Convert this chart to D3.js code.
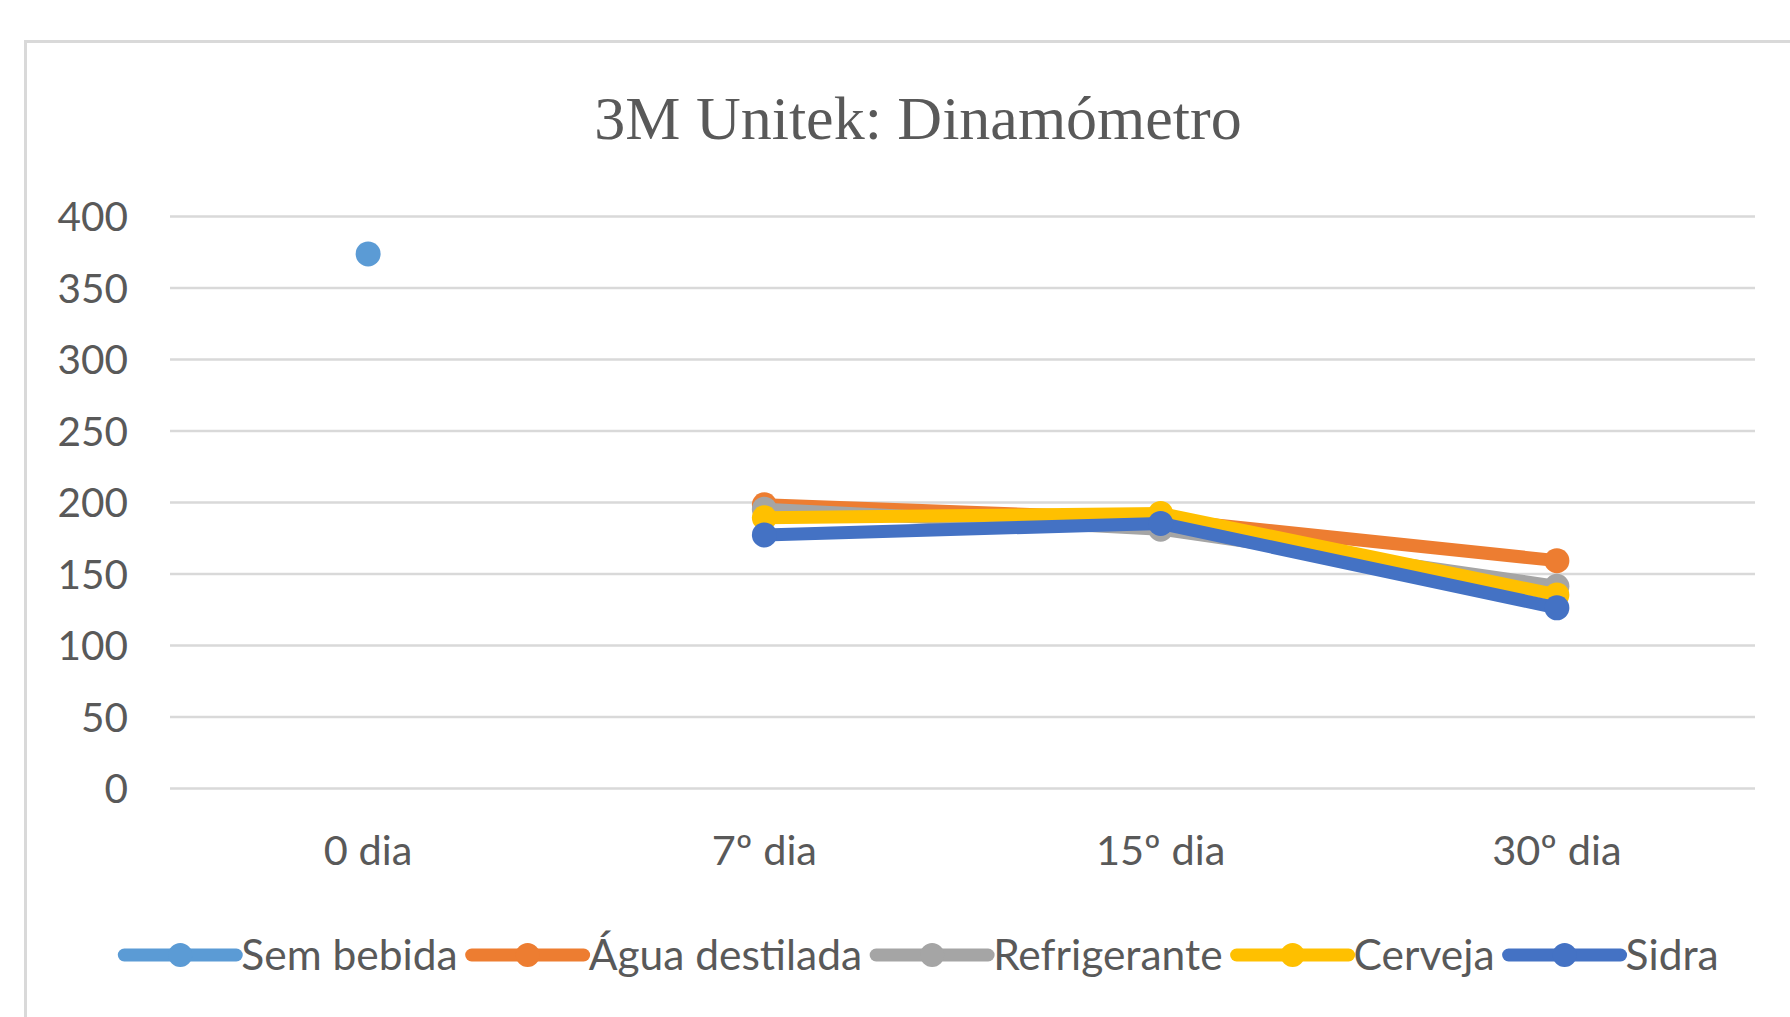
<!DOCTYPE html>
<html>
<head>
<meta charset="utf-8">
<script src="https://cdn.jsdelivr.net/npm/d3@7"></script>
<style>
  html, body { margin: 0; padding: 0; background: #ffffff; }
  svg { display: block; }
</style>
</head>
<body>
<svg id="chart" width="1790" height="1017"></svg>
<script>
// ---- data ----
const title = "3M Unitek: Dinamómetro";
const categories = ["0 dia", "7º dia", "15º dia", "30º dia"];
const yTicks = [0, 50, 100, 150, 200, 250, 300, 350, 400];
const seriesNames = ["Sem bebida", "Água destilada", "Refrigerante", "Cerveja", "Sidra"];
const seriesColors = ["#5B9BD5", "#ED7D31", "#A5A5A5", "#FFC000", "#4472C4"];
const semBebida     = [373.5, null, null, null];
const aguaDestilada = [null, 198, 188, 159];
const refrigerante  = [null, 195, 181, 141];
const cerveja       = [null, 189, 192, 135];
const sidra         = [null, 177, 185, 126];
const seriesValues = [semBebida, aguaDestilada, refrigerante, cerveja, sidra];

// ---- layout ----
const svg = d3.select("#chart");
const plot = { left: 170, right: 1755, top: 216, bottom: 788 };
const textColor = "#595959";
const sansFont = "Lato, 'Open Sans', sans-serif";

// chart border
svg.append("rect")
  .attr("x", 25.5).attr("y", 41.5)
  .attr("width", 1900).attr("height", 1100)
  .attr("fill", "#fff")
  .attr("stroke", "#d9d9d9").attr("stroke-width", 3);

// title
svg.append("text")
  .attr("x", 918).attr("y", 139)
  .attr("text-anchor", "middle")
  .attr("font-family", "'Liberation Serif', 'Times New Roman', serif")
  .attr("font-size", 62)
  .attr("fill", textColor)
  .text(title);

const x = d3.scaleBand().domain(categories).range([plot.left, plot.right]).padding(0);
const y = d3.scaleLinear().domain([0, 400]).range([plot.bottom, plot.top]);

// gridlines
const grid = d3.axisLeft(y).tickValues(yTicks).tickSize(-(plot.right - plot.left)).tickFormat("");
const gg = svg.append("g").attr("transform", `translate(${plot.left},0)`).call(grid);
gg.select(".domain").remove();
gg.selectAll(".tick line").attr("stroke", "#d9d9d9").attr("stroke-width", 2.5);

// y axis labels
const yAxis = d3.axisLeft(y).tickValues(yTicks).tickSize(0).tickPadding(0);
const gy = svg.append("g").attr("transform", `translate(${plot.left},0)`).call(yAxis);
gy.select(".domain").remove();
gy.selectAll(".tick line").remove();
gy.selectAll(".tick text")
  .attr("x", -42)
  .attr("dy", "0.36em")
  .attr("font-family", sansFont)
  .attr("font-size", 40.5)
  .attr("fill", textColor);

// x axis labels
const xAxis = d3.axisBottom(x).tickSize(0).tickPadding(0);
const gx = svg.append("g").attr("transform", `translate(0,${plot.bottom})`).call(xAxis);
gx.select(".domain").remove();
gx.selectAll(".tick text")
  .attr("y", 77)
  .attr("dy", 0)
  .attr("font-family", sansFont)
  .attr("font-size", 41.5)
  .attr("fill", textColor);

// series
const cx = c => x(c) + x.bandwidth() / 2;
const line = d3.line()
  .defined(d => d.v !== null)
  .x(d => cx(d.c))
  .y(d => y(d.v));

seriesValues.forEach((vals, i) => {
  const pts = categories.map((c, j) => ({ c, v: vals[j] }));
  const g = svg.append("g");
  g.append("path")
    .datum(pts)
    .attr("fill", "none")
    .attr("stroke", seriesColors[i])
    .attr("stroke-width", 13)
    .attr("stroke-linejoin", "round")
    .attr("stroke-linecap", "round")
    .attr("d", line);
  g.selectAll("circle")
    .data(pts.filter(d => d.v !== null))
    .join("circle")
    .attr("cx", d => cx(d.c))
    .attr("cy", d => y(d.v))
    .attr("r", 12.5)
    .attr("fill", seriesColors[i]);
});

// legend
const legY = 955;
const lineLen = 112, gapAfterLine = 5, gapAfterText = 14;
const leg = svg.append("g");
const items = seriesNames.map((name, i) => {
  const g = leg.append("g");
  g.append("line")
    .attr("x1", 0).attr("x2", lineLen)
    .attr("y1", legY).attr("y2", legY)
    .attr("stroke", seriesColors[i]).attr("stroke-width", 13)
    .attr("stroke-linecap", "round");
  g.append("circle")
    .attr("cx", lineLen / 2).attr("cy", legY).attr("r", 12)
    .attr("fill", seriesColors[i]);
  const t = g.append("text")
    .attr("x", lineLen + gapAfterLine)
    .attr("y", legY)
    .attr("dy", "0.36em")
    .attr("font-family", sansFont)
    .attr("font-size", 42.5)
    .attr("fill", textColor)
    .text(name);
  return { g, w: lineLen + gapAfterLine + t.node().getComputedTextLength() };
});
const total = d3.sum(items, d => d.w) + gapAfterText * (items.length - 1);
let pos = 921.5 - total / 2;
items.forEach(it => {
  it.g.attr("transform", `translate(${pos},0)`);
  pos += it.w + gapAfterText;
});
</script>
</body>
</html>
